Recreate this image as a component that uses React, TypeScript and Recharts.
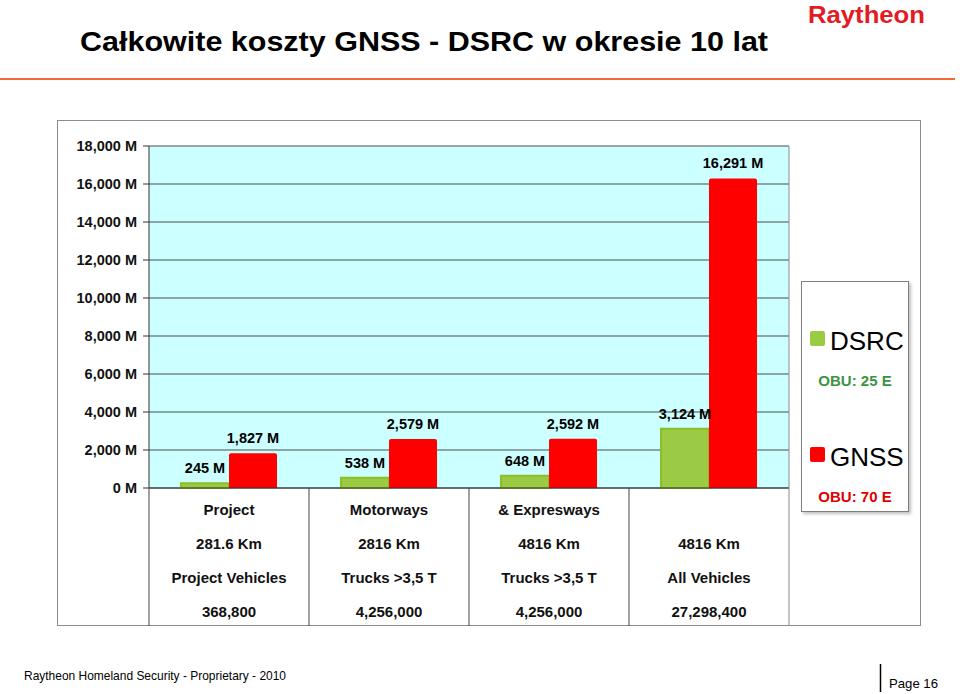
import { BarChart, Bar, XAxis, YAxis, CartesianGrid, Legend, LabelList } from "recharts";

const categories = ["Project", "Motorways", "& Expresways", ""];
const roadLengths = ["281.6 Km", "2816 Km", "4816 Km", "4816 Km"];
const vehicleGroups = ["Project Vehicles", "Trucks >3,5 T", "Trucks  >3,5 T", "All Vehicles"];
const vehicleCounts = ["368,800", "4,256,000", "4,256,000", "27,298,400"];
const dsrcCost = [245, 538, 648, 3124];
const gnssCost = [1827, 2579, 2592, 16291];
const yTicks = [0, 2000, 4000, 6000, 8000, 10000, 12000, 14000, 16000, 18000];
const obuPrices = ["OBU: 25 E", "OBU: 70 E"];

const data = categories.map((name, i) => ({
  id: `c${i}`,
  name,
  DSRC: dsrcCost[i],
  GNSS: gnssCost[i],
}));

const FONT = "'Liberation Sans', Arial, Helvetica, sans-serif";
const GREEN = "#9BCB45";
const RED = "#FF0000";
const PLOT_LEFT = 149;
const PLOT_RIGHT = 789;
const BAND = (PLOT_RIGHT - PLOT_LEFT) / categories.length;
const TABLE_H = 138;
const PLOT_H = 342;

const fmt = (v: any) => `${Number(v).toLocaleString("en-US")} M`;

// value label drawn on one line above the bar (default Label wraps to bar width)
function ValueLabel(props: any) {
  const { x, y, width, value } = props;
  return (
    <text
      x={x + width / 2}
      y={y - 10}
      textAnchor="middle"
      fontFamily={FONT}
      fontWeight={700}
      fontSize={14.5}
      fill="#000"
    >
      {fmt(value)}
    </text>
  );
}

function TableTick(props: any) {
  const { x, y, index } = props;
  const rows = [categories[index], roadLengths[index], vehicleGroups[index], vehicleCounts[index]];
  const last = index === categories.length - 1;
  return (
    <g>
      <line x1={x - BAND / 2} x2={x - BAND / 2} y1={y} y2={y + TABLE_H} stroke="#444" strokeWidth={1} />
      {last && (
        <line x1={x + BAND / 2} x2={x + BAND / 2} y1={y - PLOT_H} y2={y + TABLE_H} stroke="#8a8a8a" strokeWidth={1} />
      )}
      {rows.map((t, r) => (
        <text
          key={r}
          x={x}
          y={y + 27 + r * 34}
          textAnchor="middle"
          fontFamily={FONT}
          fontWeight={700}
          fontSize={15}
          fill="#111"
        >
          {t}
        </text>
      ))}
    </g>
  );
}

function LegendBox(props: any) {
  const { payload } = props;
  return (
    <div
      style={{
        position: "relative",
        width: 108,
        height: 231,
        boxSizing: "border-box",
        border: "1px solid #7f7f7f",
        background: "#fff",
        boxShadow: "2px 2px 3px rgba(0,0,0,0.25)",
        fontFamily: FONT,
      }}
    >
      {(payload || []).map((p: any, i: number) => (
        <div key={p.value}>
          <div
            style={{
              position: "absolute",
              left: 8,
              top: 49 + i * 116,
              width: 15,
              height: 15,
              borderRadius: 2,
              background: p.color,
            }}
          />
          <div
            style={{
              position: "absolute",
              left: 28,
              top: 44 + i * 116,
              fontSize: 26,
              lineHeight: "30px",
              color: "#000",
            }}
          >
            {p.value}
          </div>
          <div
            style={{
              position: "absolute",
              left: 0,
              width: 106,
              top: 90 + i * 116,
              textAlign: "center",
              fontSize: 15,
              lineHeight: "18px",
              fontWeight: 700,
              color: i === 0 ? "#3B9443" : "#E00000",
            }}
          >
            {obuPrices[i]}
          </div>
        </div>
      ))}
    </div>
  );
}

export default function App() {
  return (
    <div style={{ position: "absolute", left: 0, top: 0, width: 960, height: 694, background: "#fff", fontFamily: FONT }}>
      <svg width={960} height={694} style={{ position: "absolute", left: 0, top: 0 }}>
        <text x={80} y={51} fontFamily={FONT} fontWeight={700} fontSize={28} textLength={688} lengthAdjust="spacingAndGlyphs" fill="#000">
          Całkowite koszty GNSS - DSRC w okresie 10 lat
        </text>
        <text x={808} y={23} fontFamily={FONT} fontWeight={700} fontSize={24} textLength={117} lengthAdjust="spacingAndGlyphs" fill="#E31B23">
          Raytheon
        </text>
        <line x1={0} x2={955} y1={79} y2={79} stroke="#F26A3A" strokeWidth={2} />
        <rect x={57.5} y={120.5} width={863} height={505} fill="#fff" stroke="#8c8c8c" />
        <text x={24} y={680} fontFamily={FONT} fontSize={13} textLength={262} lengthAdjust="spacingAndGlyphs" fill="#000">
          Raytheon Homeland Security - Proprietary - 2010
        </text>
        <line x1={880.5} x2={880.5} y1={664} y2={692} stroke="#000" strokeWidth={1.5} />
        <text x={889} y={688} fontFamily={FONT} fontSize={13} textLength={49} lengthAdjust="spacingAndGlyphs" fill="#000">
          Page 16
        </text>
      </svg>
      <div style={{ position: "absolute", left: 0, top: 0 }}>
        <BarChart
          width={960}
          height={694}
          data={data}
          margin={{ top: 146, right: 171, bottom: 66, left: 59 }}
          barCategoryGap="20%"
          barGap={0}
        >
          <CartesianGrid vertical={false} stroke="#4a4a4a" fill="#CCFFFF" fillOpacity={1} />
          <XAxis
            dataKey="id"
            interval={0}
            height={140}
            tickLine={false}
            tickSize={0}
            tickMargin={0}
            axisLine={{ stroke: "#333" }}
            tick={<TableTick />}
          />
          <YAxis
            width={90}
            domain={[0, 18000]}
            ticks={yTicks}
            tickFormatter={fmt}
            tickSize={6}
            tickMargin={6}
            tickLine={{ stroke: "#333" }}
            axisLine={{ stroke: "#333" }}
            tick={{ fill: "#111", fontSize: 14.5, fontWeight: 700, fontFamily: FONT }}
          />
          <Legend
            layout="horizontal"
            verticalAlign="middle"
            align="center"
            content={<LegendBox />}
            wrapperStyle={{ left: 801, top: 281, width: 108, height: 231 }}
          />
          <Bar dataKey="DSRC" fill={GREEN} stroke="#8CBF26" strokeWidth={2} isAnimationActive={false}>
            <LabelList dataKey="DSRC" content={<ValueLabel />} />
          </Bar>
          <Bar dataKey="GNSS" fill={RED} radius={[2, 2, 0, 0]} isAnimationActive={false}>
            <LabelList dataKey="GNSS" content={<ValueLabel />} />
          </Bar>
        </BarChart>
      </div>
    </div>
  );
}
